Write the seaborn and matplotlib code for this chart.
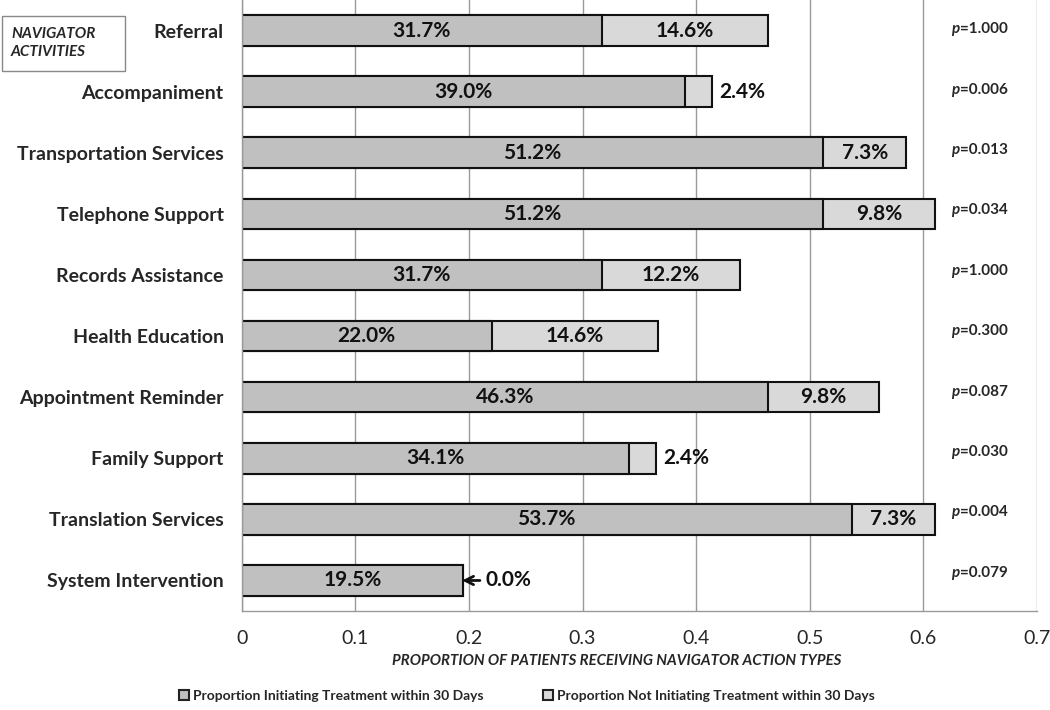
import pandas as pd
import matplotlib.pyplot as plt
import seaborn as sns
from matplotlib.patches import Patch, Rectangle

# ------------------ data ------------------
activities = ["Referral", "Accompaniment", "Transportation Services", "Telephone Support",
              "Records Assistance", "Health Education", "Appointment Reminder",
              "Family Support", "Translation Services", "System Intervention"]
initiating = [31.7, 39.0, 51.2, 51.2, 31.7, 22.0, 46.3, 34.1, 53.7, 19.5]
not_initiating = [14.6, 2.4, 7.3, 9.8, 12.2, 14.6, 9.8, 2.4, 7.3, 0.0]
p_values = ["1.000", "0.006", "0.013", "0.034", "1.000", "0.300", "0.087", "0.030", "0.004", "0.079"]

df = pd.DataFrame({"activity": activities,
                   "init": [v / 100 for v in initiating],
                   "notinit": [v / 100 for v in not_initiating]})
df["total"] = df["init"] + df["notinit"]

dark = "#c0c0c0"
light = "#d9d9d9"

sns.set_style("white")
plt.rcParams["font.family"] = ["Lato", "DejaVu Sans"]

fig = plt.figure(figsize=(10.5, 7.1), dpi=100)
ax = fig.add_axes([0.2302, 0.1394, 0.7574, 0.8606])

# stacked bars: total first, then the initiating part over it
sns.barplot(data=df, x="total", y="activity", color=light, width=0.5,
            edgecolor="#111111", linewidth=1.5, saturation=1, ax=ax)
sns.barplot(data=df, x="init", y="activity", color=dark, width=0.5,
            edgecolor="#111111", linewidth=1.5, saturation=1, ax=ax)

ax.set_xlim(0, 0.7)
ax.set_ylim(9.5, -0.5)
ax.set_xticks([0, 0.1, 0.2, 0.3, 0.4, 0.5, 0.6, 0.7])
ax.set_xticklabels(["0", "0.1", "0.2", "0.3", "0.4", "0.5", "0.6", "0.7"], fontsize=14)
ax.set_yticks(range(len(activities)))
ax.set_yticklabels(activities, fontsize=14, fontweight="bold")
ax.tick_params(axis="y", length=0, pad=13)
ax.tick_params(axis="x", length=6, color="#999999", pad=8)
ax.xaxis.grid(True, color="#999999", linewidth=1)
ax.set_axisbelow(True)
for s in ["top", "right"]:
    ax.spines[s].set_visible(False)
for s in ["left", "bottom"]:
    ax.spines[s].set_color("#999999")
    ax.spines[s].set_linewidth(1)
ax.set_ylabel("")
ax.set_xlabel("PROPORTION OF PATIENTS RECEIVING NAVIGATOR ACTION TYPES",
              fontsize=10.8, fontweight="bold", fontstyle="italic")
ax.xaxis.set_label_coords(0.472, -0.07)

# bar labels
lab = dict(fontsize=15, fontweight="bold", color="#111111")
for i, row in df.iterrows():
    ax.text(row["init"] / 2, i, f"{initiating[i]:.1f}%", ha="center", va="center", **lab)
    if not_initiating[i] >= 5:
        ax.text(row["init"] + row["notinit"] / 2, i, f"{not_initiating[i]:.1f}%",
                ha="center", va="center", **lab)
    elif not_initiating[i] > 0:
        ax.text(row["total"] + 0.006, i, f"{not_initiating[i]:.1f}%",
                ha="left", va="center", **lab)
    else:
        ax.annotate(f"{not_initiating[i]:.1f}%", xy=(row["total"] - 0.001, i),
                    xytext=(row["total"] + 0.02, i), ha="left", va="center",
                    arrowprops=dict(arrowstyle="->", color="#111111", lw=2,
                                    shrinkA=2, shrinkB=0), **lab)

# p values
for i, p in enumerate(p_values):
    y = i - 0.02 - 0.012 * i
    ax.text(0.632, y, "p", ha="right", va="center", fontsize=11,
            fontweight="bold", fontstyle="italic")
    ax.text(0.632, y, "=" + p, ha="left", va="center", fontsize=11, fontweight="bold")

# boxed title at top left
fig.patches.append(Rectangle((2 / 1050, 1 - 71 / 710), 123 / 1050, 55 / 710,
                             transform=fig.transFigure, fill=False,
                             edgecolor="#888888", linewidth=1))
fig.text(11 / 1050, 1 - 43 / 710, "NAVIGATOR\nACTIVITIES", ha="left", va="center",
         fontsize=11, fontweight="bold", fontstyle="italic", linespacing=1.4)

handles = [Patch(facecolor=dark, edgecolor="#222222", linewidth=1.5,
                 label="Proportion Initiating Treatment within 30 Days"),
           Patch(facecolor=light, edgecolor="#222222", linewidth=1.5,
                 label="Proportion Not Initiating Treatment within 30 Days")]
fig.legend(handles=handles, loc="lower center", bbox_to_anchor=(0.502, -0.006),
           ncol=2, frameon=False, handlelength=0.7, handleheight=0.7,
           handletextpad=0.3, columnspacing=4.3,
           prop={"size": 10, "weight": "bold"})

fig.savefig("out.png", dpi=100)
